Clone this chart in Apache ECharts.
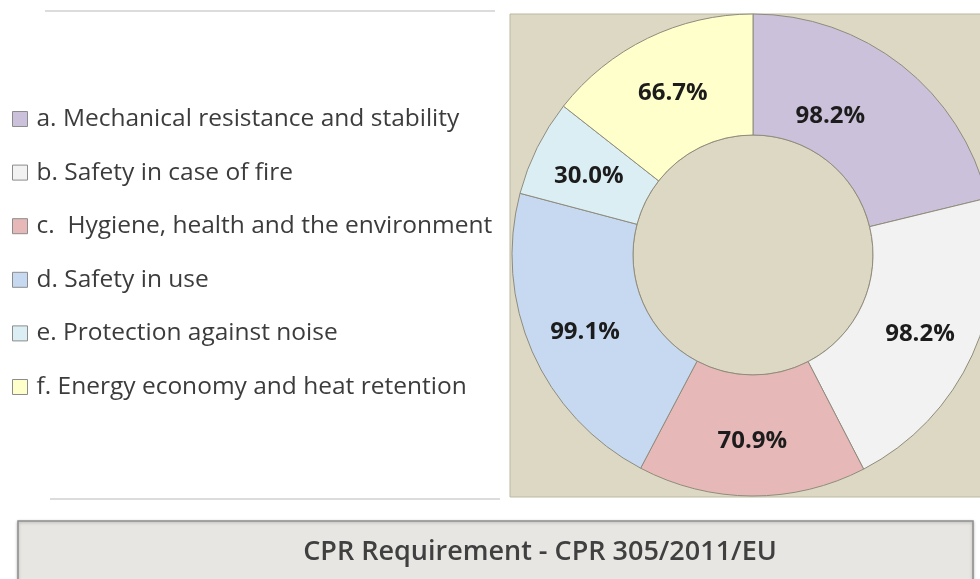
<!DOCTYPE html>
<html>
<head>
<meta charset="utf-8">
<script src="https://cdn.jsdelivr.net/npm/echarts@6/dist/echarts.min.js"></script>
<style>
html,body{margin:0;padding:0;background:#ffffff;}
#chart{width:980px;height:579px;}
</style>
</head>
<body>
<div id="chart"></div>
<script>
const categories = [
  'a. Mechanical resistance and stability',
  'b. Safety in case of fire',
  'c.  Hygiene, health and the environment',
  'd. Safety in use',
  'e. Protection against noise',
  'f. Energy economy and heat retention'
];
const values = [98.2, 98.2, 70.9, 99.1, 30.0, 66.7];
const colors = ['#ccc1da', '#f2f2f2', '#e6b9b8', '#c6d9f1', '#dbeef4', '#ffffcc'];
const titleText = 'CPR Requirement - CPR 305/2011/EU';

const chart = echarts.init(document.getElementById('chart'), null, {renderer: 'canvas'});
const FONT = '"Open Sans", "Noto Sans", sans-serif';

chart.setOption({
  backgroundColor: '#ffffff',
  animation: false,
  graphic: [
    { type: 'line', z: 0, shape: {x1: 45, y1: 11, x2: 495, y2: 11}, style: {stroke: '#dcdcdc', lineWidth: 2} },
    { type: 'line', z: 0, shape: {x1: 50, y1: 499, x2: 500, y2: 499}, style: {stroke: '#dcdcdc', lineWidth: 2} },
    { type: 'rect', z: -10, shape: {x: 510, y: 14, width: 490, height: 483}, style: {fill: '#ddd8c3', stroke: '#bdb8a3', lineWidth: 1} },
    { type: 'rect', z: 0, shape: {x: 18, y: 521, width: 955, height: 80}, style: {fill: '#e7e6e2', stroke: '#8f8f8f', lineWidth: 1.5, shadowBlur: 3, shadowColor: 'rgba(0,0,0,0.25)', shadowOffsetY: 1} },
    { type: 'text', z: 1, x: 540, y: 552, style: {text: titleText, fill: '#404040', font: '600 27px ' + FONT, textAlign: 'center', textVerticalAlign: 'middle'} }
  ],
  legend: {
    orient: 'vertical',
    left: 12,
    top: 105,
    padding: 0,
    icon: 'rect',
    itemWidth: 15,
    itemHeight: 15,
    itemGap: 25.6,
    selectedMode: false,
    data: categories,
    itemStyle: {borderColor: '#8c8c8c', borderWidth: 1},
    textStyle: {fontSize: 24.5, lineHeight: 28, color: '#3c3c3c', fontFamily: FONT, padding: [0,0,0,4]}
  },
  series: [
    {
      type: 'pie',
      center: [753, 255],
      radius: [120, 241],
      startAngle: 90,
      clockwise: true,
      silent: true,
      z: 2,
      itemStyle: {borderColor: '#8f8c7c', borderWidth: 1},
      label: {
        show: true,
        position: 'inside',
        formatter: p => p.value.toFixed(1) + '%',
        fontSize: 24,
        fontWeight: 'bold',
        fontFamily: FONT,
        color: '#1c1c1c'
      },
      labelLine: {show: false},
      labelLayout: p => p.dataIndex === 0 ? {dx: -36, dy: 5} : {dy: 3},
      data: categories.map((c, i) => ({name: c, value: values[i], itemStyle: {color: colors[i]}}))
    },
    {
      type: 'pie',
      center: [753, 255],
      radius: [0, 120],
      silent: true,
      z: 1,
      label: {show: false},
      labelLine: {show: false},
      itemStyle: {color: '#ddd8c3', borderColor: '#a09c86', borderWidth: 1},
      data: [{name: 'inner', value: 1}]
    }
  ]
});
</script>
</body>
</html>
